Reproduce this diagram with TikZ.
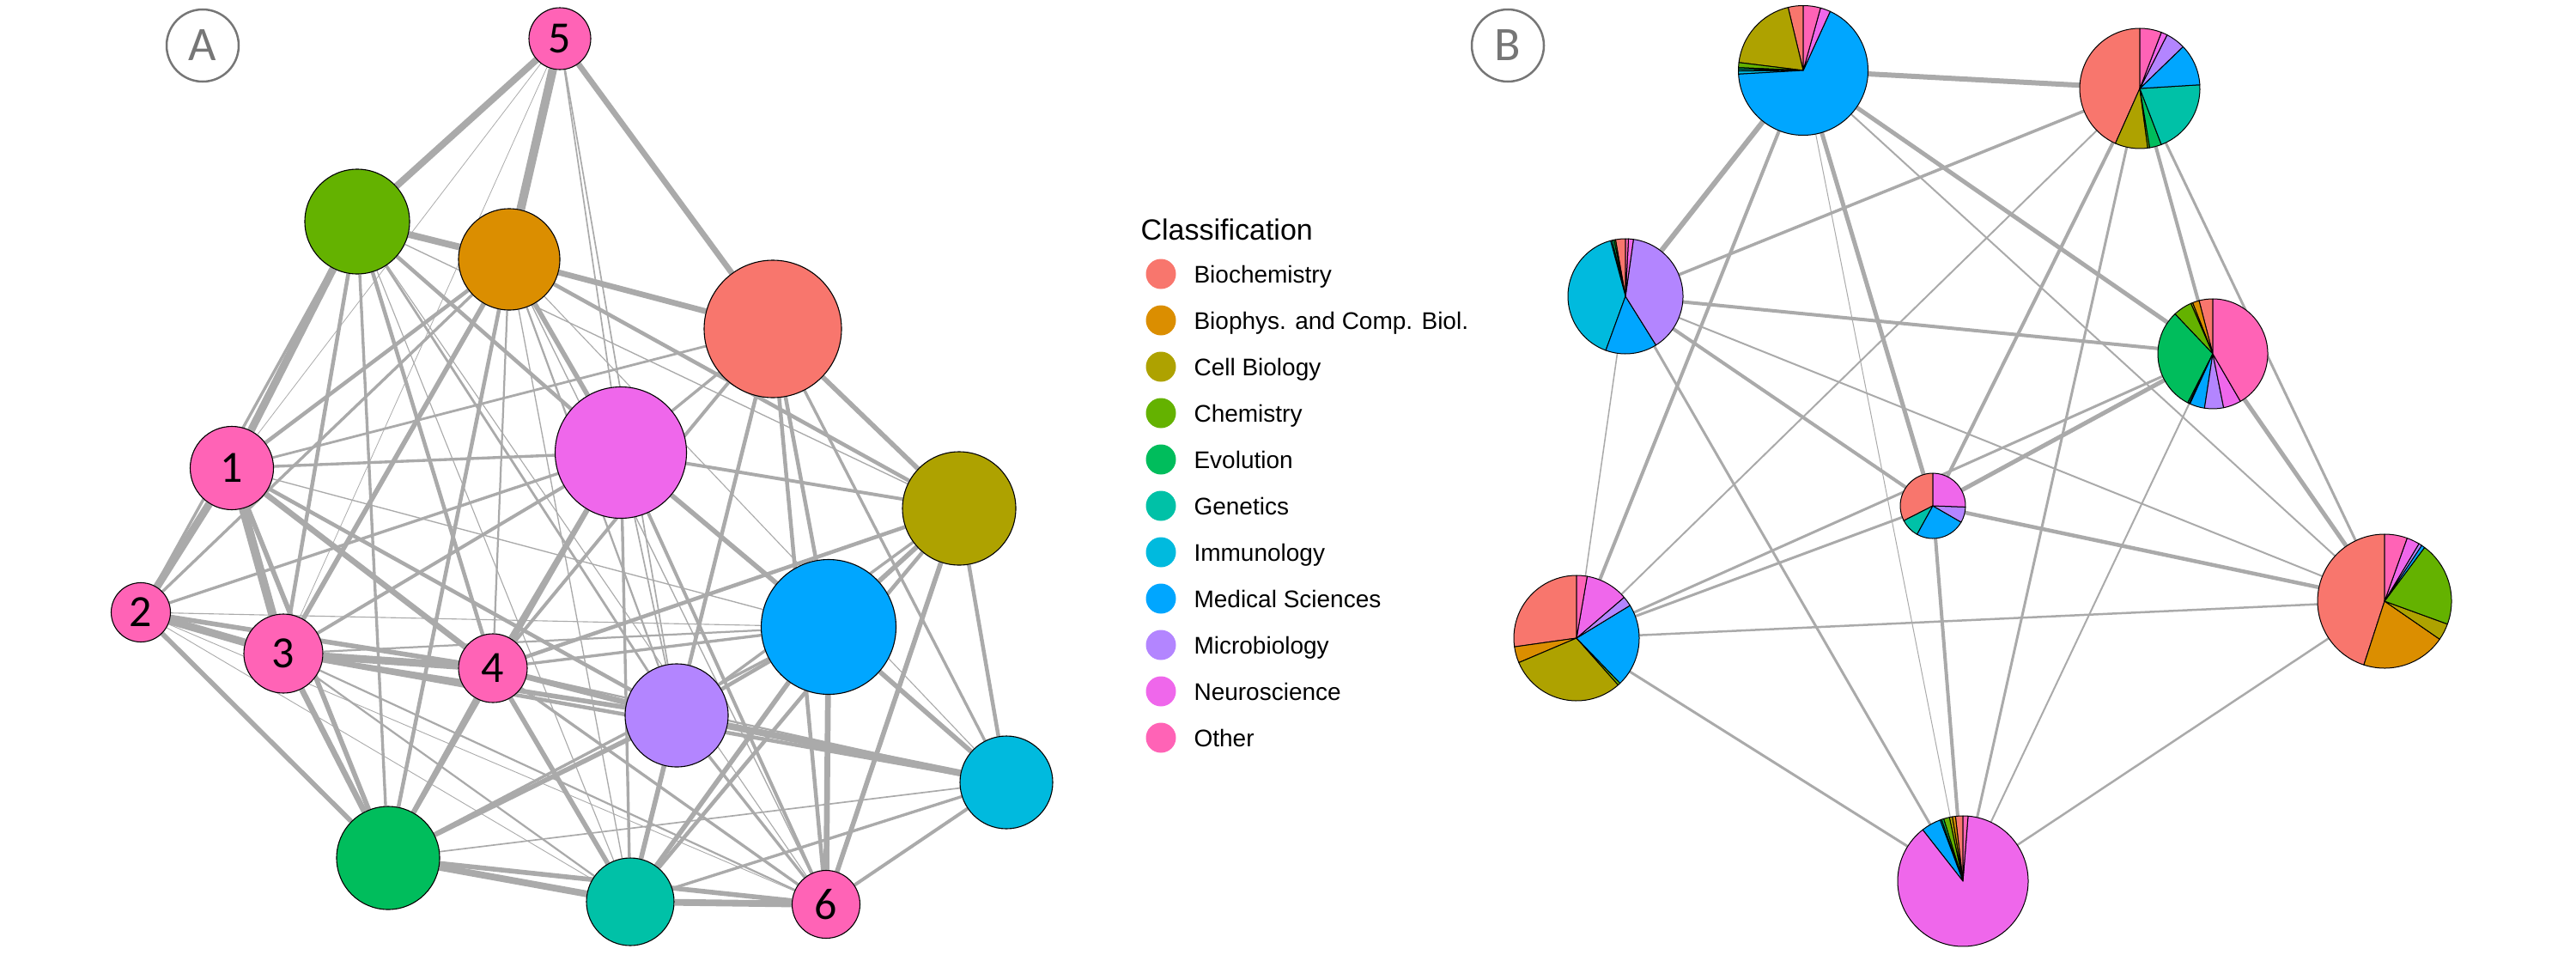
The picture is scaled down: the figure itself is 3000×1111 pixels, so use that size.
\documentclass[tikz,border=0pt]{standalone}
\usepackage{fontspec}
\setmainfont{Liberation Sans}
\newfontfamily\numfont{Carlito}
\usetikzlibrary{backgrounds}
\definecolor{cBC}{HTML}{F8766D}
\definecolor{cBP}{HTML}{DB8E00}
\definecolor{cCB}{HTML}{AEA200}
\definecolor{cCH}{HTML}{64B200}
\definecolor{cEV}{HTML}{00BD5C}
\definecolor{cGE}{HTML}{00C1A7}
\definecolor{cIM}{HTML}{00BADE}
\definecolor{cMD}{HTML}{00A6FF}
\definecolor{cMI}{HTML}{B385FF}
\definecolor{cNE}{HTML}{EF67EB}
\definecolor{cOT}{HTML}{FF63B6}
\definecolor{edgec}{HTML}{AAAAAA}
\definecolor{labgray}{HTML}{767676}
\newcommand\pieslice[5]{\filldraw[fill=#5,draw=black,line width=1pt,line join=round] (#1.center) -- ++({90+#3}:#2pt) arc[start angle={90+#3},end angle={90+#4},radius=#2pt] -- cycle;}
\begin{document}
\begin{tikzpicture}[x=1pt,y=-1pt,
  nd/.style={circle,draw=black,line width=1.1pt,inner sep=0pt,font=\numfont\fontsize{52}{52}\selectfont},
  pn/.style={circle,inner sep=0pt},
  lab/.style={circle,draw=labgray,line width=2.5pt,minimum size=84pt,inner sep=0pt,text=labgray,font=\numfont\fontsize{56}{56}\selectfont},
  legtext/.style={anchor=base west,font=\fontsize{28}{30}\selectfont}]
\useasboundingbox (0,0) rectangle (3000,1111);
% ---------- Panel A ----------
\node[lab] (labA) at (236,53) {A};
\node[nd,fill=cOT,minimum size=72pt]  (n5) at (652,45) {5};
\node[nd,fill=cCH,minimum size=122pt] (ch) at (416,258) {};
\node[nd,fill=cBP,minimum size=118pt] (bp) at (593,302) {};
\node[nd,fill=cBC,minimum size=160pt] (bc) at (900,383) {};
\node[nd,fill=cNE,minimum size=153pt] (ne) at (723,527) {};
\node[nd,fill=cOT,minimum size=97pt]  (n1) at (270,545) {1};
\node[nd,fill=cCB,minimum size=132pt] (cb) at (1117,592) {};
\node[nd,fill=cOT,minimum size=69pt]  (n2) at (164,713) {2};
\node[nd,fill=cOT,minimum size=92pt]  (n3) at (330,761) {3};
\node[nd,fill=cOT,minimum size=80pt]  (n4) at (574,778) {4};
\node[nd,fill=cMD,minimum size=157pt] (md) at (965,730) {};
\node[nd,fill=cMI,minimum size=120pt] (mi) at (788,833) {};
\node[nd,fill=cIM,minimum size=108pt] (im) at (1172,911) {};
\node[nd,fill=cEV,minimum size=120pt] (ev) at (452,999) {};
\node[nd,fill=cGE,minimum size=102pt] (ge) at (734,1050) {};
\node[nd,fill=cOT,minimum size=79pt]  (n6) at (962,1053) {6};
\begin{scope}[on background layer]
\foreach \a/\b/\w in {n5/ch/7, n5/bp/9, n5/bc/6, n5/n1/0.7, n5/n3/0.7, n5/ne/1.5, n5/mi/1.5,
  ch/bp/7, ch/n1/8, ch/n2/3, ch/n3/4, ch/ev/3, ch/n4/4, ch/ge/1, ch/mi/2.5, ch/n6/1, ch/ne/4, ch/cb/1.2,
  bp/bc/6, bp/n1/4, bp/n2/3, bp/n3/5, bp/ev/4, bp/n4/2, bp/ge/1.2, bp/ne/5, bp/mi/2, bp/n6/1.2, bp/cb/4, bp/im/1,
  bc/cb/5, bc/n1/2.5, bc/ne/3, bc/n4/3.5, bc/mi/4, bc/md/4, bc/n6/4, bc/im/3,
  n1/n2/8, n1/n3/9, n1/ev/5, n1/n4/6, n1/mi/4, n1/md/1.2, n1/ne/3,
  ne/cb/3.5, ne/md/5, ne/ge/3, ne/n6/3.5, ne/mi/1.5, ne/n4/5, ne/n3/3.5, ne/ev/4, ne/n2/3,
  cb/md/5, cb/ge/4, cb/n4/4, cb/n6/5, cb/im/4, cb/mi/3,
  md/n6/6, md/ge/5, md/im/5, md/mi/4, md/n4/3, md/n3/2, md/n2/1, md/ev/3,
  mi/im/7, mi/ge/5, mi/n6/3, mi/n4/6, mi/n3/5, mi/ev/5,
  im/ge/3, im/n6/3.5, im/ev/1.5, im/n3/4, im/n4/2,
  ge/n6/7, ge/n4/5, ge/n3/2, ge/n2/0.8, ge/ev/7,
  n6/ev/5, n6/n4/3, n6/n3/2, n6/n2/0.8,
  n4/ev/5, n4/n3/8, n4/n2/5,
  n3/ev/6, n3/n2/8, ev/n2/5}
  {\draw[edgec,line width=1.12*\w pt] (\a) -- (\b);}
\end{scope}
% ---------- Legend ----------
\node[legtext,font=\fontsize{34}{36}\selectfont] (legtitle) at (1325,279) {Classification};
\foreach \i/\c/\t in {0/cBC/Biochemistry, 1/cBP/Biophys. and Comp. Biol., 2/cCB/Cell Biology, 3/cCH/Chemistry, 4/cEV/Evolution, 5/cGE/Genetics, 6/cIM/Immunology, 7/cMD/Medical Sciences, 8/cMI/Microbiology, 9/cNE/Neuroscience, 10/cOT/Other}{
  \node[circle,fill=\c,minimum size=35pt,inner sep=0pt] (ld\i) at (1352,{319+54*\i}) {};
  \node[legtext] (lt\i) at (1387,{329+54*\i}) {\t};
}
% ---------- Panel B ----------
\node[lab] (labB) at (1756,53) {B};
\node[pn,minimum size=151pt] (T)  at (2100,82) {};
\node[pn,minimum size=140pt] (TR) at (2492,103) {};
\node[pn,minimum size=134pt] (L)  at (1893,345) {};
\node[pn,minimum size=128pt] (RM) at (2577,412) {};
\node[pn,minimum size=76pt]  (C)  at (2251,589) {};
\node[pn,minimum size=146pt] (BL) at (1836,743) {};
\node[pn,minimum size=156pt] (R)  at (2777,700) {};
\node[pn,minimum size=152pt] (Bo) at (2286,1026) {};
\begin{scope}[on background layer]
\foreach \a/\b/\w in {T/TR/6, T/L/6, T/BL/4, T/C/5, T/Bo/1, T/R/2, T/RM/5,
  TR/L/3.5, TR/BL/2, TR/C/4, TR/Bo/3, TR/RM/4, TR/R/3,
  L/RM/4, L/C/4, L/BL/1.5, L/Bo/3, L/R/2,
  RM/C/5, RM/BL/3, RM/R/5, RM/Bo/2,
  C/R/4.5, C/Bo/4, C/BL/3, BL/R/2.5, BL/Bo/3, R/Bo/2.5}
  {\draw[edgec,line width=\w pt] (\a) -- (\b);}
\end{scope}
\foreach \s/\e/\c in {0/13.5/cBC, 13.5/83/cCB, 83/87.5/cCH, 87.5/89/cEV, 89/90.5/cGE, 90.5/93.3/cIM, 93.3/335.4/cMD, 335.4/344.5/cNE, 344.5/360/cOT}
  {\pieslice{T}{75.5}{\s}{\e}{\c}}
\foreach \s/\e/\c in {0/156/cBC, 156/187.6/cCB, 187.6/189.5/cCH, 189.5/201/cEV, 201/273.5/cGE, 273.5/314/cMD, 314/333/cMI, 333/339/cNE, 339/360/cOT}
  {\pieslice{TR}{70}{\s}{\e}{\c}}
\foreach \s/\e/\c in {0/10/cBC, 10/11.5/cCH, 11.5/13.5/cEV, 13.5/15/cGE, 15/160/cIM, 160/212/cMD, 212/352/cMI, 352/357/cNE, 357/360/cOT}
  {\pieslice{L}{67}{\s}{\e}{\c}}
\foreach \s/\e/\c in {0/14.5/cBC, 14.5/21.6/cBP, 21.6/23.5/cCB, 23.5/43.5/cCH, 43.5/152.9/cEV, 152.9/154.5/cGE, 154.5/155.5/cIM, 155.5/171.3/cMD, 171.3/191.4/cMI, 191.4/210.2/cNE, 210.2/360/cOT}
  {\pieslice{RM}{64}{\s}{\e}{\c}}
\foreach \s/\e/\c in {0/117/cBC, 117/151/cGE, 151/240/cMD, 240/268/cMI, 268/360/cNE}
  {\pieslice{C}{38}{\s}{\e}{\c}}
\foreach \s/\e/\c in {0/98/cBC, 98/113/cBP, 113/221.6/cCB, 221.6/224/cCH, 224/301.4/cMD, 301.4/310.6/cMI, 310.6/350.2/cNE, 350.2/360/cOT}
  {\pieslice{BL}{73}{\s}{\e}{\c}}
\foreach \s/\e/\c in {0/162/cBC, 162/235.4/cBP, 235.4/250/cCB, 250/323.3/cCH, 323.3/326.3/cMD, 326.3/329.1/cMI, 329.1/340.3/cNE, 340.3/360/cOT}
  {\pieslice{R}{78}{\s}{\e}{\c}}
\foreach \s/\e/\c in {0/6.6/cBC, 6.6/9.4/cBP, 9.4/12/cCB, 12/17.2/cCH, 17.2/19.2/cEV, 19.2/20.5/cGE, 20.5/38.1/cMD, 38.1/355.5/cNE, 355.5/360/cOT}
  {\pieslice{Bo}{76}{\s}{\e}{\c}}
\end{tikzpicture}
\end{document}
